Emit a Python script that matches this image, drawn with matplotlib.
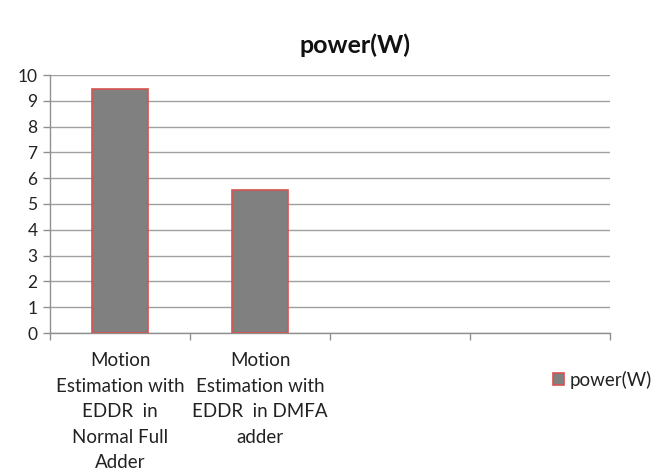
import matplotlib
matplotlib.use("Agg")
import matplotlib.pyplot as plt
import numpy as np

categories = ["Motion\nEstimation with\nEDDR  in\nNormal Full\nAdder",
              "Motion\nEstimation with\nEDDR  in DMFA\nadder", "", ""]
values = [9.45, 5.55, np.nan, np.nan]
series_name = "power(W)"
yticks = list(range(0, 11))

plt.rcParams['font.family'] = ['Lato', 'DejaVu Sans']

fig = plt.figure(figsize=(6.62, 4.71), dpi=100)
ax = fig.add_axes([50/662, 1-333/471, 560/662, (333-75)/471])

x = np.arange(len(categories))
ax.bar(x, values, width=0.4, color="#808080", edgecolor="#d9534f", linewidth=1.2,
       label=series_name, zorder=3)

ax.set_xlim(-0.5, len(categories) - 0.5)
ax.set_ylim(0, 10)
ax.set_yticks(yticks)
ax.set_yticklabels([str(v) for v in yticks], fontsize=12.5, color="#222222")
ax.yaxis.grid(True, color="#a0a0a0", linewidth=1.0, zorder=0)
ax.set_axisbelow(True)

ax.set_xticks(x)
ax.set_xticklabels(categories, fontsize=13.5, linespacing=1.6, va="top",
                   color="#222222")
ax.tick_params(axis="x", which="major", length=0, pad=14)
ax.set_xticks(np.arange(-0.5, len(categories)), minor=True)
ax.tick_params(axis="x", which="minor", length=5, color="#909090", width=1)
ax.tick_params(axis="y", length=5, color="#909090", width=1, pad=4)

for s in ["top", "right"]:
    ax.spines[s].set_visible(False)
for s in ["left", "bottom"]:
    ax.spines[s].set_color("#909090")
    ax.spines[s].set_linewidth(1.0)

fig.text(355/662, 1-45/471, "power(W)", fontsize=18, fontweight="bold",
         ha="center", va="center", color="#111111")

ax.legend(loc="center left", bbox_to_anchor=(540/662, 1-380/471),
          bbox_transform=fig.transFigure, frameon=False, fontsize=13.5,
          handlelength=0.6, handleheight=0.6, handletextpad=0.3, borderpad=0.2,
          labelcolor="#222222")

fig.savefig("out.png", dpi=100)
